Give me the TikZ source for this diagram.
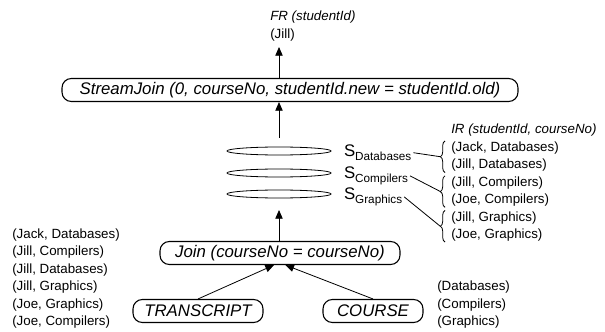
\documentclass[tikz,border=0pt]{standalone}
\usepackage{fontspec}
\setmainfont{Liberation Sans}
\usetikzlibrary{arrows.meta,shapes.geometric,decorations.pathreplacing}
\newcommand\subtxt[1]{\raisebox{-3pt}{\fontsize{8.8}{10}\selectfont #1}}
\begin{document}
\begin{tikzpicture}[x=0.75pt,y=-0.75pt,
  op/.style={draw,line width=0.8pt,rounded corners=7pt,minimum height=17.25pt,inner sep=0pt,font=\fontsize{12.6}{15}\selectfont\itshape},
  lst/.style={anchor=west,inner sep=0pt,font=\fontsize{10}{12}\selectfont},
  ttl/.style={anchor=west,inner sep=0pt,font=\fontsize{10}{12}\selectfont\itshape},
  stream/.style={draw,ellipse,line width=0.6pt,minimum width=78pt,minimum height=6pt,inner sep=0pt},
  slab/.style={anchor=base west,inner sep=0pt,outer sep=1.5pt,font=\fontsize{12.6}{15}\selectfont},
  arr/.style={-{Triangle[length=6.5pt,width=5.5pt]},line width=0.6pt},
  br/.style={decorate,decoration={brace,amplitude=3.5pt},line width=0.6pt},
  conn/.style={line width=0.6pt}
]
\useasboundingbox (0,0) rectangle (605,331);
% top
\node[ttl] (fr) at (270,17) {FR (studentId)};
\node[lst] (jill) at (270,35) {(Jill)};
\node[op,minimum width=342pt] (sj) at (290,90) {StreamJoin (0, courseNo, studentId.new = studentId.old)};
\coordinate (frtip) at (279,47);
\draw[arr] (sj.north -| frtip) -- (frtip);
% streams
\node[stream] (e1) at (279,151) {};
\node[stream] (e2) at (279,173) {};
\node[stream] (e3) at (279,194) {};
\coordinate (stop) at (279,138);
\draw[arr] (stop) -- (stop |- sj.south);
\node[slab] (sd) at (342,156.5) {S\subtxt{Databases}};
\node[slab] (sc) at (342,178.5) {S\subtxt{Compilers}};
\node[slab] (sg) at (342,199.5) {S\subtxt{Graphics}};
% join
\node[op,minimum width=180pt] (join) at (280,253) {Join (courseNo = courseNo)};
\coordinate (jtip) at (279,210);
\draw[arr] (join.north -| jtip) -- (jtip);
\node[op,minimum width=97.5pt] (tr) at (198,311) {TRANSCRIPT};
\node[op,minimum width=75pt] (co) at (373,311) {COURSE};
\draw[arr] (tr.north) -- ([xshift=-4.5pt]join.south);
\draw[arr] (co.north) -- ([xshift=4pt]join.south);
% IR block
\node[ttl] (ir) at (451,130) {IR (studentId, courseNo)};
\node[lst] (r1) at (451,148) {(Jack, Databases)};
\node[lst] (r2) at (451,165.4) {(Jill, Databases)};
\node[lst] (r3) at (451,182.8) {(Jill, Compilers)};
\node[lst] (r4) at (451,200.2) {(Joe, Compilers)};
\node[lst] (r5) at (451,217.6) {(Jill, Graphics)};
\node[lst] (r6) at (451,235) {(Joe, Graphics)};
\draw[br] (445,172.5) -- (445,141);
\draw[br] (445,207.3) -- (445,175.8);
\draw[br] (445,242) -- (445,210.5);
\coordinate (b1) at (440.3,156.7);
\coordinate (b2) at (440.3,191.5);
\coordinate (b3) at (440.3,226.3);
\draw[conn] (sd.east) -- (b1);
\draw[conn] (sc.east) -- (b2);
\draw[conn] (sg.east) -- (b3);
% left list
\node[lst] (l1) at (12,235) {(Jack, Databases)};
\node[lst] (l2) at (12,252.5) {(Jill, Compilers)};
\node[lst] (l3) at (12,270) {(Jill, Databases)};
\node[lst] (l4) at (12,287.5) {(Jill, Graphics)};
\node[lst] (l5) at (12,305) {(Joe, Graphics)};
\node[lst] (l6) at (12,322.5) {(Joe, Compilers)};
% course list
\node[lst] (c1) at (437,287.5) {(Databases)};
\node[lst] (c2) at (437,305) {(Compilers)};
\node[lst] (c3) at (437,322.5) {(Graphics)};
\end{tikzpicture}
\end{document}
